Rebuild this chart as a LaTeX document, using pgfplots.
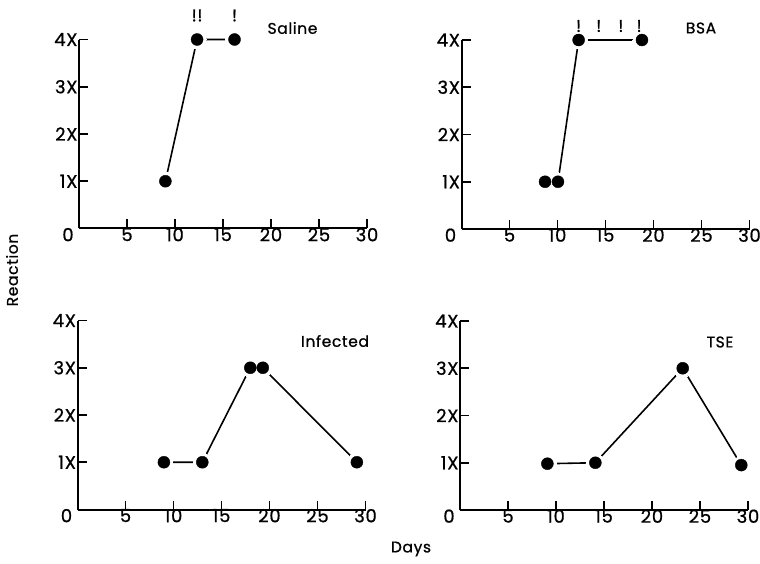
\documentclass[border=0pt]{standalone}
\usepackage{fontspec}
\setmainfont{Poppins}[LetterSpace=4, FakeBold=0.8]
\usepackage{pgfplots}
\pgfplotsset{compat=1.18}
\pgfplotsset{
  panel/.style={
    anchor=origin, scale only axis, width=288pt, height=189pt,
    xmin=0, xmax=30, ymin=0, ymax=4,
    axis x line*=bottom, axis y line*=left,
    axis line style={line width=2pt, black},
    xtick={5,10,...,30}, ytick={1,2,3,4}, yticklabels={1X,2X,3X,4X},
    extra x ticks={0},
    extra x tick style={major tick length=0pt, xticklabel style={xshift=-11pt}},
    tick align=inside, major tick length=9pt,
    every tick/.style={line width=1.6pt, black},
    tick label style={font=\fontsize{18}{18}\selectfont},
    xticklabel style={yshift=4pt},
    yticklabel style={xshift=2pt},
    /pgf/number format/assume math mode=true,
    clip=false,
  },
  ln/.style={black, line width=1.6pt, mark=*, mark size=9pt, mark options={draw=white, fill=white, line width=0pt}},
  dot/.style={draw=none, only marks, mark=*, mark size=6pt, mark options={black, fill=black}},
  exc/.style={draw=none, mark=none, point meta=explicit symbolic, nodes near coords,
    every node near coord/.append style={anchor=center, yshift=#1, font=\fontsize{17}{17}\selectfont}},
}
\newcommand{\ttl}{\fontsize{15.5}{15.5}\selectfont}
\begin{document}
\begin{tikzpicture}[x=1pt,y=1pt]
\path[use as bounding box] (0,0) rectangle (760,563);

% Saline
\begin{axis}[panel, at={(79pt,334.5pt)}]
\addplot[ln] coordinates {(9,1) (12.3,4) (16.2,4)};
\addplot[dot] coordinates {(9,1) (12.3,4) (16.2,4)};
\addplot[exc=24pt] coordinates {(12.3,4) [!!] (16.2,4) [!]};
\end{axis}

% BSA
\begin{axis}[panel, at={(461.5pt,334pt)}]
\addplot[ln] coordinates {(8.7,1) (10.05,1) (12.2,4) (18.8,4)};
\addplot[dot] coordinates {(8.7,1) (10.05,1) (12.2,4) (18.8,4)};
\addplot[exc=14pt] coordinates {(12.2,4) [!] (14.3,4) [!] (16.6,4) [!] (18.5,4) [!]};
\end{axis}

% Infected
\begin{axis}[panel, at={(77.5pt,53.5pt)}]
\addplot[ln] coordinates {(9,1) (13,1) (18,3) (19.3,3) (29.1,1)};
\addplot[dot] coordinates {(9,1) (13,1) (18,3) (19.3,3) (29.1,1)};
\end{axis}

% TSE
\begin{axis}[panel, at={(460pt,53pt)}]
\addplot[ln] coordinates {(9.1,0.98) (14.1,1) (23.2,3) (29.3,0.95)};
\addplot[dot] coordinates {(9.1,0.98) (14.1,1) (23.2,3) (29.3,0.95)};
\end{axis}

\node[font=\ttl] at (292.5,535) {Saline};
\node[font=\ttl] at (701,535) {BSA};
\node[font=\ttl] at (335,222) {Infected};
\node[font=\ttl] at (720,221) {TSE};
\node[font=\ttl, rotate=90] at (12,293) {Reaction};
\node[font=\ttl] at (411,14) {Days};
\end{tikzpicture}
\end{document}
